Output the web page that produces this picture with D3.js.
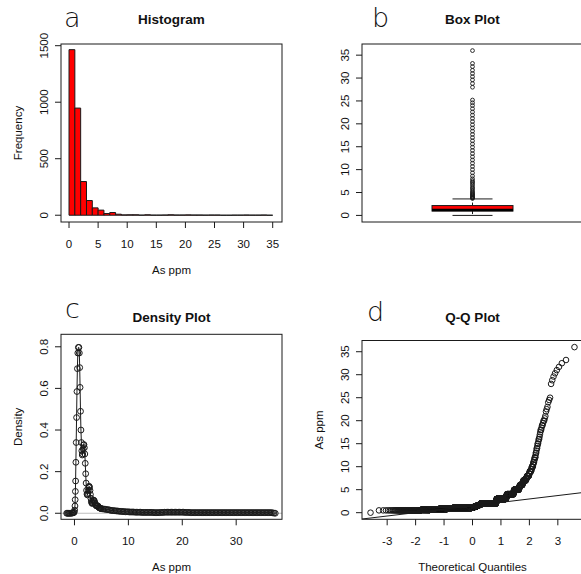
<!DOCTYPE html>
<html>
<head>
<meta charset="utf-8">
<script src="https://cdn.jsdelivr.net/npm/d3@7/dist/d3.min.js"></script>
<style>
  html, body { margin: 0; padding: 0; background: #fff; }
  svg text { font-family: "Liberation Sans", Arial, Helvetica, sans-serif; fill: #111; }
  .letter { font-family: "DejaVu Sans", sans-serif; font-weight: 200; font-size: 27px; }
  .title { font-weight: bold; font-size: 13.5px; }
  .lab { font-size: 11.5px; }
</style>
</head>
<body>
<svg id="chart" width="581" height="574"></svg>
<script>
// histogram: counts per 1-ppm bin, 0..35
const histCounts = [1465, 948, 298, 130, 65, 45, 15, 24, 9, 3, 4, 4, 1, 4, 1, 1, 2, 4, 2, 2,
  3, 2, 2, 1, 2, 2, 0, 0, 1, 1, 2, 1, 1, 2, 0];
const histTicks = [0, 5, 10, 15, 20, 25, 30, 35];
const freqTicks = [0, 500, 1000, 1500];

// box plot: lower whisker, Q1, median, Q3, upper whisker
const boxStats = [0, 0.95, 1.2, 2.15, 3.6];
const boxOutliers = [3.7, 3.8, 3.9, 4.0, 4.2, 4.4, 4.5, 4.7, 4.9, 5.1, 5.4, 5.7, 6.0, 6.3, 6.7,
  7.0, 7.3, 7.6, 8.0, 8.6, 9.3, 10.0, 10.7, 11.4, 12.1, 12.8, 13.5, 14.2, 14.9, 15.6, 16.3, 17.0,
  17.7, 18.4, 19.1, 19.8, 20.5, 21.2, 21.9, 22.6, 23.3, 24.0, 24.6, 25.2, 28.0, 28.8, 29.6, 30.3,
  31.0, 31.7, 32.5, 33.2, 36.0];
const ppmTicks = [0, 5, 10, 15, 20, 25, 30, 35];

// density curve points
const densX = [-1.45, -1.3, -1.15, -1.0, -0.85, -0.7, -0.55, -0.4, -0.28, -0.17, -0.05, 0.03, 0.09,
  0.13, 0.17, 0.21, 0.26, 0.32, 0.39, 0.46, 0.54, 0.62, 0.72, 0.82, 0.9, 0.97, 1.04, 1.12, 1.2,
  1.28, 1.36, 1.44, 1.52, 1.6, 1.68, 1.76, 1.84, 1.92, 2.0, 2.08, 2.16, 2.24, 2.32, 2.4, 2.48,
  2.56, 2.64, 2.72, 2.8, 2.88, 2.96, 3.04, 3.12, 3.2, 3.28, 3.36, 3.44, 3.52, 3.6, 3.7, 3.8, 3.9,
  4.0, 4.1, 4.2, 4.3, 4.4, 4.5, 4.6, 4.7, 4.8, 4.9, 5.0,
  5.25, 5.5, 5.75, 6, 6.25, 6.5, 6.75, 7, 7.25, 7.5, 7.75, 8, 8.25, 8.5, 8.75, 9, 9.25, 9.5, 9.75,
  10, 10.25, 10.5, 10.75, 11, 11.25, 11.5, 11.75, 12, 12.25, 12.5, 12.75, 13, 13.25, 13.5, 13.75,
  14, 14.25, 14.5, 14.75, 15, 15.25, 15.5, 15.75, 16, 16.25, 16.5, 16.75, 17, 17.25, 17.5, 17.75,
  18, 18.25, 18.5, 18.75, 19, 19.25, 19.5, 19.75, 20, 20.25, 20.5, 20.75, 21, 21.25, 21.5, 21.75,
  22, 22.25, 22.5, 22.75, 23, 23.25, 23.5, 23.75, 24, 24.25, 24.5, 24.75, 25, 25.25, 25.5, 25.75,
  26, 26.25, 26.5, 26.75, 27, 27.25, 27.5, 27.75, 28, 28.25, 28.5, 28.75, 29, 29.25, 29.5, 29.75,
  30, 30.25, 30.5, 30.75, 31, 31.25, 31.5, 31.75, 32, 32.25, 32.5, 32.75, 33, 33.25, 33.5, 33.75,
  34, 34.25, 34.5, 34.75, 35, 35.25, 35.5, 35.75, 36, 36.25, 36.5, 36.75, 37, 37.25];
const densY = [0, 0, 0, 0, 0, 0, 0.001, 0.001, 0.002, 0.003, 0.005, 0.015, 0.035,
  0.065, 0.105, 0.155, 0.245, 0.34, 0.46, 0.585, 0.695, 0.77, 0.797, 0.797, 0.77, 0.70, 0.605, 0.49, 0.40,
  0.34, 0.30, 0.28, 0.285, 0.31, 0.328, 0.33, 0.315, 0.285, 0.24, 0.19, 0.145, 0.11, 0.092, 0.088, 0.095,
  0.11, 0.125, 0.13, 0.125, 0.11, 0.09, 0.072, 0.058, 0.05, 0.047, 0.05, 0.056, 0.062, 0.063, 0.058, 0.05, 0.042,
  0.037, 0.035, 0.036, 0.036, 0.033, 0.029, 0.026, 0.025, 0.024, 0.023, 0.022,
  0.021, 0.02, 0.019, 0.018, 0.017, 0.016, 0.014, 0.013, 0.013, 0.012, 0.011, 0.011, 0.01, 0.009, 0.009, 0.008, 0.008, 0.007, 0.007,
  0.007, 0.006, 0.006, 0.006, 0.006, 0.005, 0.005, 0.005, 0.005, 0.005, 0.004, 0.004, 0.004, 0.004, 0.004, 0.004,
  0.004, 0.004, 0.004, 0.003, 0.003, 0.003, 0.003, 0.003, 0.004, 0.004, 0.004, 0.005, 0.005, 0.005, 0.005, 0.005,
  0.005, 0.005, 0.005, 0.005, 0.005, 0.005, 0.005, 0.005, 0.005, 0.005, 0.004, 0.004, 0.004, 0.004, 0.003, 0.003,
  0.003, 0.003, 0.003, 0.003, 0.003, 0.003, 0.003, 0.003, 0.003, 0.003, 0.003, 0.003, 0.003, 0.003, 0.003, 0.003,
  0.003, 0.003, 0.003, 0.003, 0.003, 0.003, 0.003, 0.003, 0.003, 0.003, 0.003, 0.003, 0.003, 0.003, 0.003, 0.003,
  0.003, 0.003, 0.003, 0.003, 0.003, 0.003, 0.003, 0.003, 0.003, 0.003, 0.003, 0.003, 0.003, 0.003, 0.003, 0.003,
  0.003, 0.003, 0.003, 0.003, 0.003, 0.003, 0.003, 0.003, 0.003, 0.003, 0.003, 0.002, 0.001, 0];
const densXTicks = [0, 10, 20, 30];
const densYTicks = [0, 0.2, 0.4, 0.6, 0.8];

// Q-Q plot: sample values (As ppm) and how many of each
const qqValues = [0, 0.5, 0.6, 0.7, 0.8, 0.9, 1.0, 1.1, 1.2, 1.3, 1.4, 1.5, 1.6, 1.7, 1.8, 2, 2.5, 3,
  3.5, 4, 4.5, 5, 5.5, 6, 6.5, 7, 7.5, 8, 8.5, 9, 9.5, 10, 10.5, 11, 11.5, 12, 12.5, 13, 13.5, 14,
  14.5, 15, 15.5, 16, 16.5, 17, 17.5, 18, 18.5, 19, 19.5, 20, 20.5, 21, 22, 22.5, 23, 24, 24.5, 25,
  28, 28.8, 29.6, 30.3, 31, 31.7, 32.5, 33.2, 36];
const qqCounts = [1, 100, 100, 150, 200, 170, 700, 80, 60, 50, 50, 50, 40, 40, 42, 530, 20, 235,
  15, 115, 10, 60, 10, 25, 8, 20, 8, 12, 4, 8, 3, 5, 2, 3, 2, 3, 1, 2, 1, 2,
  1, 2, 1, 2, 1, 1, 1, 2, 1, 2, 1, 2, 1, 1, 1, 1, 1, 1, 1, 1,
  1, 1, 1, 1, 1, 1, 1, 1, 1];
const qqXTicks = [-3, -2, -1, 0, 1, 2, 3];

// inverse standard normal CDF (Acklam)
function qnorm(p) {
  const a = [-3.969683028665376e+01, 2.209460984245205e+02, -2.759285104469687e+02, 1.383577518672690e+02, -3.066479806614716e+01, 2.506628277459239e+00];
  const b = [-5.447609879822406e+01, 1.615858368580409e+02, -1.556989798598866e+02, 6.680131188771972e+01, -1.328068155288572e+01];
  const c = [-7.784894002430293e-03, -3.223964580411365e-01, -2.400758277161838e+00, -2.549732539343734e+00, 4.374664141464968e+00, 2.938163982698783e+00];
  const d = [7.784695709041462e-03, 3.224671290700398e-01, 2.445134137142996e+00, 3.754408661907416e+00];
  let q, r;
  if (p < 0.02425) {
    q = Math.sqrt(-2 * Math.log(p));
    return (((((c[0] * q + c[1]) * q + c[2]) * q + c[3]) * q + c[4]) * q + c[5]) / ((((d[0] * q + d[1]) * q + d[2]) * q + d[3]) * q + 1);
  }
  if (p <= 1 - 0.02425) {
    q = p - 0.5; r = q * q;
    return (((((a[0] * r + a[1]) * r + a[2]) * r + a[3]) * r + a[4]) * r + a[5]) * q / (((((b[0] * r + b[1]) * r + b[2]) * r + b[3]) * r + b[4]) * r + 1);
  }
  q = Math.sqrt(-2 * Math.log(1 - p));
  return -(((((c[0] * q + c[1]) * q + c[2]) * q + c[3]) * q + c[4]) * q + c[5]) / ((((d[0] * q + d[1]) * q + d[2]) * q + d[3]) * q + 1);
}

const svg = d3.select('#chart');
svg.append('rect').attr('width', 581).attr('height', 574).attr('fill', '#fff');

const ink = '#1a1a1a';
const tickLen = 6;

function frame(g, x0, x1, y0, y1) {
  g.append('rect')
    .attr('x', x0).attr('y', y0)
    .attr('width', x1 - x0).attr('height', y1 - y0)
    .attr('fill', 'none').attr('stroke', ink).attr('stroke-width', 1);
}

function yAxis(g, y, x0, ticks, fmt) {
  ticks.forEach(t => {
    g.append('line').attr('x1', x0 - tickLen).attr('x2', x0)
      .attr('y1', y(t)).attr('y2', y(t)).attr('stroke', ink);
    g.append('text').attr('class', 'lab')
      .attr('transform', `translate(${x0 - 13.5},${y(t)}) rotate(-90)`)
      .attr('text-anchor', 'middle').text(fmt ? fmt(t) : t);
  });
}

function xAxis(g, x, y0, ticks) {
  ticks.forEach(t => {
    g.append('line').attr('x1', x(t)).attr('x2', x(t))
      .attr('y1', y0).attr('y2', y0 + tickLen).attr('stroke', ink);
    g.append('text').attr('class', 'lab')
      .attr('x', x(t)).attr('y', y0 + 26)
      .attr('text-anchor', 'middle').text(t < 0 ? '-' + Math.abs(t) : t);
  });
}

function titles(g, x0, x1, y0, y1, title, titleY, letter, letterX, letterY, xlab, ylab) {
  g.append('text').attr('class', 'letter').attr('x', letterX).attr('y', letterY).text(letter);
  g.append('text').attr('class', 'title').attr('x', (x0 + x1) / 2).attr('y', titleY)
    .attr('text-anchor', 'middle').text(title);
  if (xlab) {
    g.append('text').attr('class', 'lab').attr('x', (x0 + x1) / 2).attr('y', y1 + 51.5)
      .attr('text-anchor', 'middle').text(xlab);
  }
  if (ylab) {
    g.append('text').attr('class', 'lab')
      .attr('transform', `translate(${x0 - 39},${(y0 + y1) / 2}) rotate(-90)`)
      .attr('text-anchor', 'middle').text(ylab);
  }
}

// ---- a: histogram
{
  const g = svg.append('g');
  const L = 61, R = 282, T = 44, B = 222;
  const x = d3.scaleLinear().domain([-1.38, 36.6]).range([L, R]);
  const y = d3.scaleLinear().domain([-60, 1515]).range([B, T]);
  // closed paths so that empty bins still show as a line on the baseline
  g.selectAll('path.bar').data(histCounts).enter().append('path')
    .attr('class', 'bar')
    .attr('d', (d, i) => `M${x(i)},${y(0)}V${y(d)}H${x(i + 1)}V${y(0)}Z`)
    .attr('fill', '#ff0000').attr('stroke', ink).attr('stroke-width', 1);
  frame(g, L, R, T, B);
  yAxis(g, y, L, freqTicks);
  xAxis(g, x, B, histTicks);
  titles(g, L, R, T, B, 'Histogram', 24, 'a', 64, 26.5, 'As ppm', 'Frequency');
}

// ---- b: box plot
{
  const g = svg.append('g');
  const L = 362, R = 583, T = 44, B = 222;
  const y = d3.scaleLinear().domain([-1.44, 37.44]).range([B, T]);
  const cx = (L + R) / 2, halfBox = 40.5, halfCap = 20;
  const [lo, q1, med, q3, hi] = boxStats;
  g.append('line').attr('x1', cx).attr('x2', cx).attr('y1', y(q3)).attr('y2', y(hi))
    .attr('stroke', ink).attr('stroke-dasharray', '3,3');
  g.append('line').attr('x1', cx).attr('x2', cx).attr('y1', y(q1)).attr('y2', y(lo))
    .attr('stroke', ink).attr('stroke-dasharray', '3,3');
  [lo, hi].forEach(v => g.append('line').attr('x1', cx - halfCap).attr('x2', cx + halfCap)
    .attr('y1', y(v)).attr('y2', y(v)).attr('stroke', ink));
  g.append('rect').attr('x', cx - halfBox).attr('width', 2 * halfBox)
    .attr('y', y(q3)).attr('height', y(q1) - y(q3))
    .attr('fill', '#ff0000').attr('stroke', ink);
  g.append('line').attr('x1', cx - halfBox).attr('x2', cx + halfBox)
    .attr('y1', y(med)).attr('y2', y(med)).attr('stroke', '#000').attr('stroke-width', 2.5);
  g.selectAll('circle').data(boxOutliers).enter().append('circle')
    .attr('cx', cx).attr('cy', d => y(d)).attr('r', 1.9)
    .attr('fill', 'none').attr('stroke', ink).attr('stroke-width', 0.9);
  frame(g, L, R, T, B);
  yAxis(g, y, L, ppmTicks);
  titles(g, L, R, T, B, 'Box Plot', 24, 'b', 372, 26.5, null, null);
}

// ---- c: density
{
  const g = svg.append('g');
  const L = 61, R = 282, T = 334.3, B = 519.3;
  const x = d3.scaleLinear().domain([-2.5, 38.5]).range([L, R]);
  const y = d3.scaleLinear().domain([-0.029, 0.86]).range([B, T]);
  g.append('line').attr('x1', L).attr('x2', R).attr('y1', y(0)).attr('y2', y(0))
    .attr('stroke', '#bebebe');
  const pts = densX.map((v, i) => [v, densY[i]]);
  g.append('path').datum(pts)
    .attr('d', d3.line().x(d => x(d[0])).y(d => y(d[1])))
    .attr('fill', 'none').attr('stroke', ink).attr('stroke-width', 1);
  g.selectAll('circle').data(pts).enter().append('circle')
    .attr('cx', d => x(d[0])).attr('cy', d => y(d[1])).attr('r', 2.9)
    .attr('fill', 'none').attr('stroke', ink).attr('stroke-width', 1);
  frame(g, L, R, T, B);
  yAxis(g, y, L, densYTicks, d3.format('.1f'));
  xAxis(g, x, B, densXTicks);
  titles(g, L, R, T, B, 'Density Plot', 321.5, 'c', 65, 318, 'As ppm', 'Density');
}

// ---- d: normal Q-Q plot
{
  const g = svg.append('g');
  const L = 362, R = 583, T = 340.5, B = 519.3;
  const x = d3.scaleLinear().domain([-3.885, 3.885]).range([L, R]);
  const y = d3.scaleLinear().domain([-1.44, 37.44]).range([B, T]);
  const sample = qqValues.flatMap((v, i) => Array(qqCounts[i]).fill(v));
  const n = sample.length;
  const pts = sample.map((v, i) => [qnorm((i + 0.5) / n), v]);
  g.append('clipPath').attr('id', 'qqclip').append('rect')
    .attr('x', L).attr('y', T).attr('width', R - L).attr('height', B - T);
  g.selectAll('circle').data(pts).enter().append('circle')
    .attr('cx', d => x(d[0])).attr('cy', d => y(d[1])).attr('r', 2.8)
    .attr('fill', 'none').attr('stroke', ink).attr('stroke-width', 1);
  // reference line through the quartiles
  const q1 = d3.quantile(sample, 0.25), q3 = d3.quantile(sample, 0.75);
  const slope = (q3 - q1) / (qnorm(0.75) - qnorm(0.25));
  const icpt = q1 - slope * qnorm(0.25);
  const [xa, xb] = x.domain();
  g.append('line').attr('clip-path', 'url(#qqclip)')
    .attr('x1', x(xa)).attr('y1', y(icpt + slope * xa))
    .attr('x2', x(xb)).attr('y2', y(icpt + slope * xb))
    .attr('stroke', ink).attr('stroke-width', 1);
  frame(g, L, R, T, B);
  yAxis(g, y, L, ppmTicks);
  xAxis(g, x, B, qqXTicks);
  titles(g, L, R, T, B, 'Q-Q Plot', 321.5, 'd', 367, 321, 'Theoretical Quantiles', 'As ppm');
}
</script>
</body>
</html>
